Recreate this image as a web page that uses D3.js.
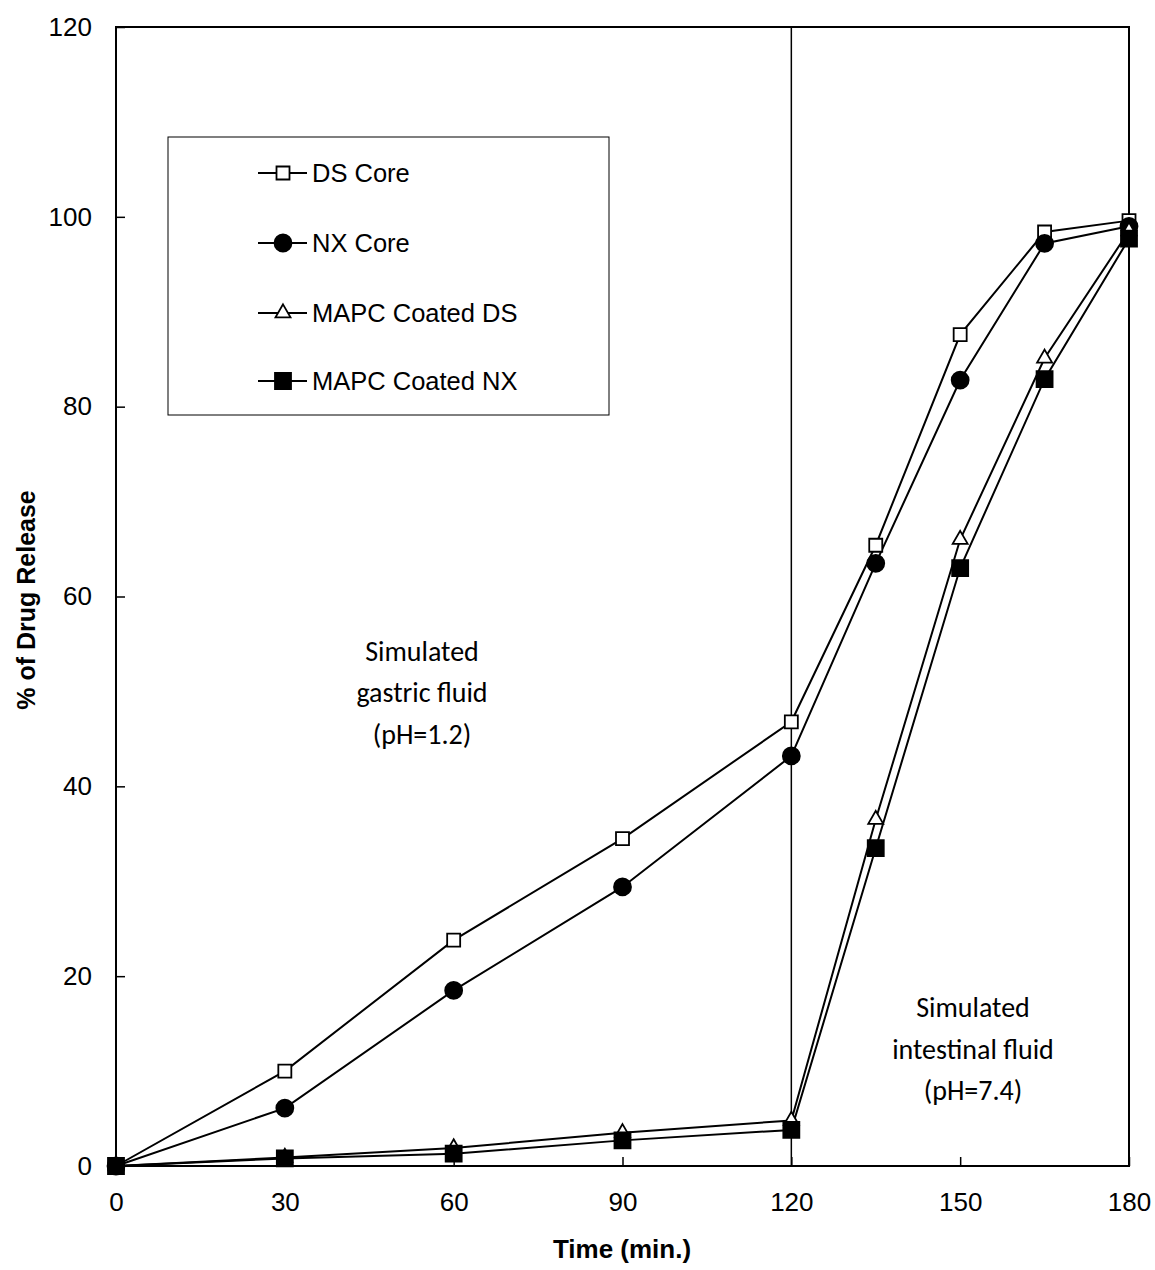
<!DOCTYPE html>
<html><head><meta charset="utf-8">
<script src="https://cdn.jsdelivr.net/npm/d3@7"></script>
<style>body{margin:0;background:#fff}</style>
</head><body>
<svg id="c" width="1155" height="1270"></svg>
<script>
const times = [0, 30, 60, 90, 120, 135, 150, 165, 180];
const dsCore = [0, 10.0, 23.8, 34.5, 46.8, 65.4, 87.6, 98.4, 99.6];
const nxCore = [0, 6.1, 18.5, 29.4, 43.2, 63.5, 82.8, 97.2, 99.0];
const mapcDS = [0, 0.9, 1.9, 3.5, 4.8, 36.5, 66.0, 85.1, 98.5];
const mapcNX = [0, 0.8, 1.3, 2.7, 3.8, 33.5, 63.0, 82.9, 97.7];
const seriesNames = ["DS Core", "NX Core", "MAPC Coated DS", "MAPC Coated NX"];
const xTicks = [0, 30, 60, 90, 120, 150, 180];
const yTicks = [0, 20, 40, 60, 80, 100, 120];

const series = [
  {name: seriesNames[0], values: dsCore, sym: "square", fill: "#fff", size: 13},
  {name: seriesNames[1], values: nxCore, sym: "circle", fill: "#000", size: 17},
  {name: seriesNames[2], values: mapcDS, sym: "triangle", fill: "#fff", size: 15},
  {name: seriesNames[3], values: mapcNX, sym: "square", fill: "#000", size: 16}
];

const svg = d3.select("#c");
const L = 116, R = 1129, T = 27, B = 1166;
const x = d3.scaleLinear().domain([0, 180]).range([L, R]);
const y = d3.scaleLinear().domain([0, 120]).range([B, T]);
const font = "'Liberation Sans', Arial, sans-serif";

// plot frame
svg.append("rect").attr("x", L).attr("y", T).attr("width", R - L).attr("height", B - T)
  .attr("fill", "none").attr("stroke", "#000").attr("stroke-width", 2);

// axes with inward ticks
const xAxis = svg.append("g").attr("transform", `translate(0,${B})`)
  .call(d3.axisBottom(x).tickValues(xTicks).tickSizeInner(-9).tickSizeOuter(0).tickPadding(27));
const yAxis = svg.append("g").attr("transform", `translate(${L},0)`)
  .call(d3.axisLeft(y).tickValues(yTicks).tickSizeInner(-9).tickSizeOuter(0).tickPadding(24));
[xAxis, yAxis].forEach(g => {
  g.select(".domain").remove();
  g.selectAll("line").attr("stroke", "#000").attr("stroke-width", 1.5);
  g.selectAll("text").attr("font-family", font).attr("font-size", 26).attr("fill", "#000");
});
xAxis.selectAll("text").attr("dy", "0.71em");

// vertical divider at 120
svg.append("line").attr("x1", x(120)).attr("x2", x(120)).attr("y1", T).attr("y2", B)
  .attr("stroke", "#000").attr("stroke-width", 1.5);

// lines & markers
const line = d3.line().x((d, i) => x(times[i])).y(d => y(d));
const symType = {square: d3.symbolSquare, circle: d3.symbolCircle, triangle: d3.symbolTriangle};
function marker(g, s, cx, cy) {
  const area = s.sym === "square" ? s.size * s.size :
               s.sym === "circle" ? Math.PI * (s.size / 2) ** 2 :
               (Math.sqrt(3) / 4) * s.size * s.size;
  g.append("path").attr("d", d3.symbol().type(symType[s.sym]).size(area)())
    .attr("transform", `translate(${cx},${cy})`)
    .attr("fill", s.fill).attr("stroke", "#000").attr("stroke-width", 1.8);
}
series.forEach(s => {
  svg.append("path").datum(s.values).attr("d", line)
    .attr("fill", "none").attr("stroke", "#000").attr("stroke-width", 2);
});
series.forEach(s => {
  const g = svg.append("g");
  s.values.forEach((v, i) => marker(g, s, x(times[i]), y(v)));
});

// legend
svg.append("rect").attr("x", 168).attr("y", 137).attr("width", 441).attr("height", 278)
  .attr("fill", "#fff").attr("stroke", "#000").attr("stroke-width", 1);
const legY = [173, 243, 313, 381];
series.forEach((s, i) => {
  const g = svg.append("g");
  g.append("line").attr("x1", 258).attr("x2", 307).attr("y1", legY[i]).attr("y2", legY[i])
    .attr("stroke", "#000").attr("stroke-width", 2);
  marker(g, s, 283, legY[i]);
  g.append("text").attr("x", 312).attr("y", legY[i]).attr("dy", "0.36em")
    .attr("font-family", font).attr("font-size", 25.5).text(s.name);
});

// annotations
const annFont = "Carlito, 'Open Sans', 'Noto Sans', sans-serif";
function ann(cx, ys, lines) {
  lines.forEach((t, i) => svg.append("text").attr("x", cx).attr("y", ys[i]).attr("dy", "0.35em")
    .attr("text-anchor", "middle").attr("font-family", annFont).attr("font-size", 28).text(t));
}
ann(422, [651, 692, 734], ["Simulated", "gastric fluid", "(pH=1.2)"]);
ann(973, [1007, 1049, 1090], ["Simulated", "intestinal fluid", "(pH=7.4)"]);

// axis titles
svg.append("text").attr("x", 622).attr("y", 1249).attr("dy", "0.35em").attr("text-anchor", "middle")
  .attr("font-family", font).attr("font-weight", "bold").attr("font-size", 26).text("Time (min.)");
svg.append("text").attr("transform", "translate(26,600) rotate(-90)").attr("dy", "0.35em")
  .attr("text-anchor", "middle").attr("font-family", font).attr("font-weight", "bold")
  .attr("font-size", 25).text("% of Drug Release");
</script>
</body></html>
